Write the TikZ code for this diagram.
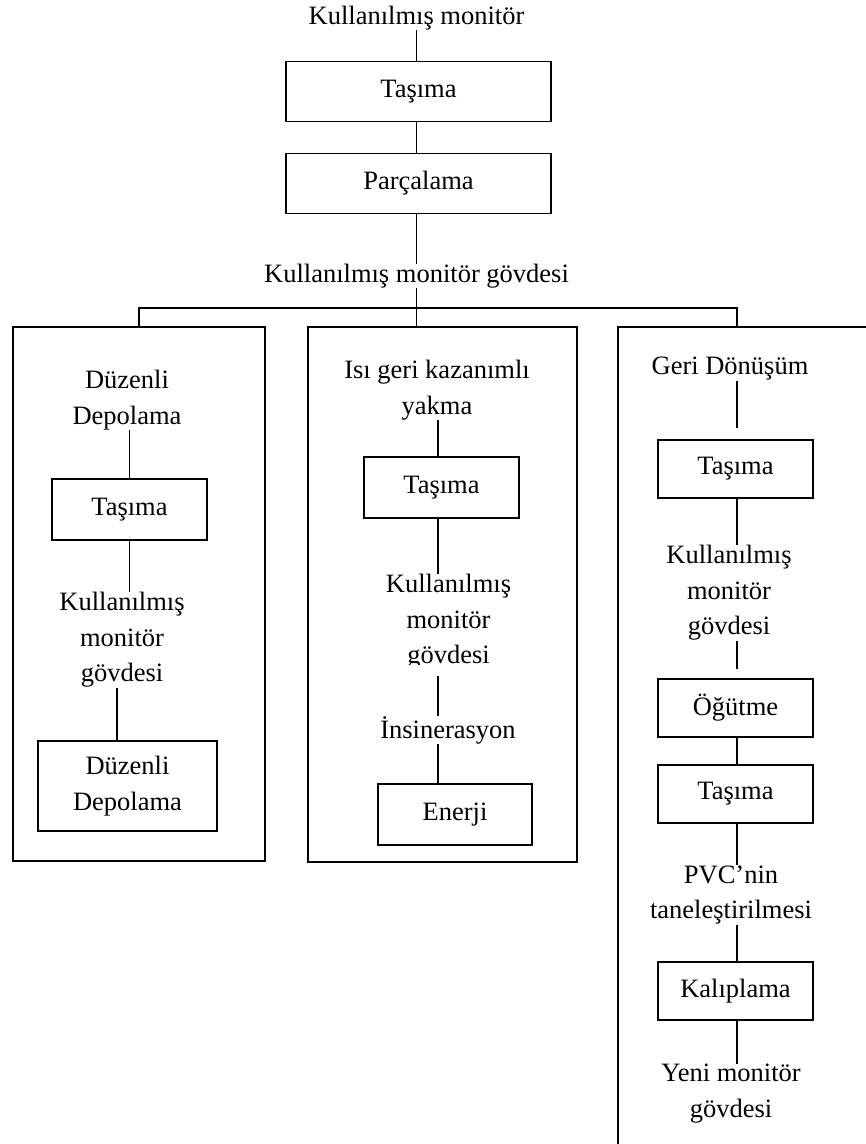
\documentclass[tikz,border=0pt]{standalone}
\usepackage{fontspec}
\setmainfont{Liberation Serif}
\begin{document}
\begin{tikzpicture}[x=1pt,y=-1pt,
  every node/.style={font=\fontsize{26.5pt}{35.5pt}\selectfont},
  txt/.style={inner sep=0pt, align=center},
  stage/.style={draw, line width=1.5pt, inner sep=0pt, align=center,
                minimum width=155pt, minimum height=58pt},
  link/.style={line width=1.5pt},
  frame/.style={draw, line width=1.5pt, inner sep=0pt},
]
\useasboundingbox (0,0) rectangle (866,1144);
\begin{scope}
\clip (0,0) rectangle (866,1144);

% ---- trunk ----
\node[txt] (src) at (416.5,18) {Kullanılmış monitör};
\node[stage, minimum width=265pt, minimum height=60pt] (tasima) at (418.5,91.5) {Taşıma};
\node[stage, minimum width=265pt, minimum height=60pt] (parca) at (418.5,183.5) {Parçalama};
\node[txt] (govde) at (416.5,276) {Kullanılmış monitör gövdesi};
\coordinate (bar) at (416.5,308);

\draw[link] (src.south) -- (src.south |- tasima.north);
\draw[link] (src.south |- tasima.south) -- (src.south |- parca.north);
\draw[link] (src.south |- parca.south) -- (govde.north);
\draw[link] (govde.south) -- (bar);

% ---- three branch frames ----
\node[frame, minimum width=252pt, minimum height=534pt] (left) at (139,594) {};
\node[frame, minimum width=269pt, minimum height=535pt] (mid) at (442.5,594.5) {};
\coordinate (rtop) at (737,327);
\coordinate (rtl) at (618,327);
\draw[link] (880,327) -- (rtl) -- (618,1160);

\draw[link] (left.north) |- (bar) -| (rtop);
\draw[link] (bar) -- (bar |- mid.north);

% ---- left branch: landfill ----
\node[txt] (l1) at (127,400) {Düzenli\\Depolama};
\node[stage, minimum height=61pt] (l2) at (129.5,509.5) {Taşıma};
\node[txt] (l3) at (122,640) {Kullanılmış\\monitör\\gövdesi};
\node[stage, minimum width=179pt, minimum height=90pt] (l4) at (127.5,786) {Düzenli\\Depolama};

\draw[link] (l2.north |- l1.south) -- (l2.north);
\draw[link] (l2.south) -- (l2.south |- l3.north);
\draw[link] ([xshift=-5pt]l3.south) -- ([xshift=-5pt]l3.south |- l4.north);

% ---- middle branch: incineration with heat recovery ----
\coordinate (mspine) at (438,0);
\node[txt] (m1) at (437,390) {Isı geri kazanımlı\\yakma};
\node[stage, minimum height=61pt] (m2) at (441.5,487.5) {Taşıma};
\begin{scope}
  \clip (320,560) rectangle (570,664);
  \node[txt] (m3) at (448.5,622) {Kullanılmış\\monitör\\gövdesi};
\end{scope}
\node[txt] (m4) at (448,730) {İnsinerasyon};
\node[stage, minimum width=154pt, minimum height=61pt] (m5) at (455,814.5) {Enerji};

\draw[link] (mspine |- m1.south) -- (mspine |- m2.north);
\draw[link] (mspine |- m2.south) -- (mspine |- m3.north);
\draw[link, shorten <=6pt] (mspine |- m3.south) -- (mspine |- m4.north);
\draw[link] (mspine |- m4.south) -- (mspine |- m5.north);

% ---- right branch: recycling ----
\coordinate (rspine) at (737,0);
\node[txt] (r1) at (730,369) {Geri Dönüşüm};
\node[stage] (r2) at (735.5,469) {Taşıma};
\node[txt] (r3) at (729,593) {Kullanılmış\\monitör\\gövdesi};
\node[stage] (r4) at (735.5,708) {Öğütme};
\node[stage] (r5) at (735.5,794) {Taşıma};
\node[txt] (r6) at (731,895) {PVC’nin\\taneleştirilmesi};
\node[stage] (r7) at (735.5,991) {Kalıplama};
\node[txt] (r8) at (731,1093.5) {Yeni monitör\\gövdesi};

\draw[link, shorten >=11pt] (rspine |- r1.south) -- (rspine |- r2.north);
\draw[link] (rspine |- r2.south) -- (rspine |- r3.north);
\draw[link, shorten >=9pt] (rspine |- r3.south) -- (rspine |- r4.north);
\draw[link] (rspine |- r4.south) -- (rspine |- r5.north);
\draw[link] (rspine |- r5.south) -- (rspine |- r6.north);
\draw[link] (rspine |- r6.south) -- (rspine |- r7.north);
\draw[link] (rspine |- r7.south) -- (rspine |- r8.north);
\end{scope}
\end{tikzpicture}
\end{document}
